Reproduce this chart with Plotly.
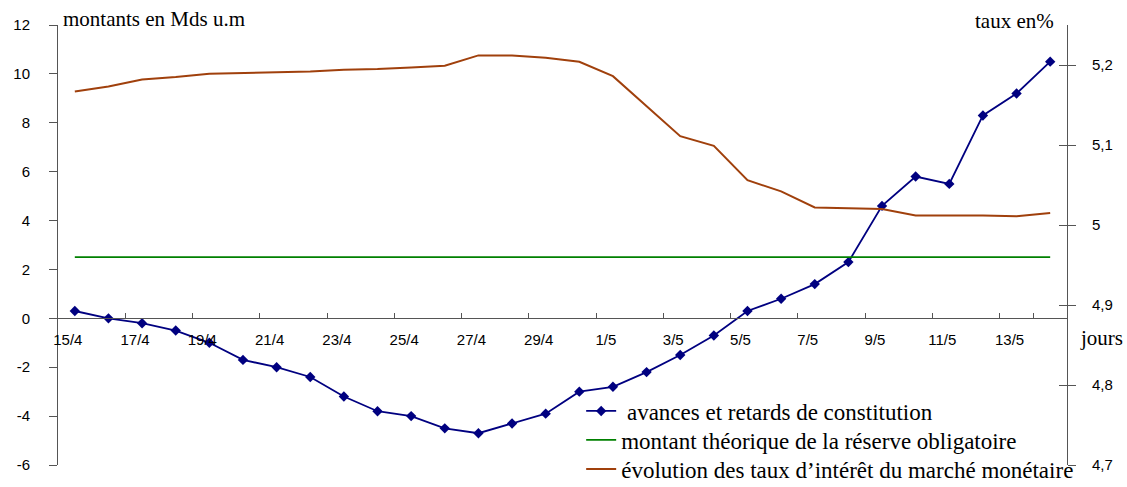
import plotly.graph_objects as go

dates = ["15/4", "16/4", "17/4", "18/4", "19/4", "20/4", "21/4", "22/4", "23/4", "24/4",
         "25/4", "26/4", "27/4", "28/4", "29/4", "30/4", "1/5", "2/5", "3/5", "4/5",
         "5/5", "6/5", "7/5", "8/5", "9/5", "10/5", "11/5", "12/5", "13/5", "14/5"]

avances = [0.3, 0.0, -0.2, -0.5, -1.0, -1.7, -2.0, -2.4, -3.2, -3.8,
           -4.0, -4.5, -4.7, -4.3, -3.9, -3.0, -2.8, -2.2, -1.5, -0.7,
           0.3, 0.8, 1.4, 2.3, 4.6, 5.8, 5.5, 8.3, 9.2, 10.5]

reserve = [2.5] * 30

taux = [5.167, 5.173, 5.182, 5.185, 5.189, 5.190, 5.191, 5.192, 5.194, 5.195,
        5.197, 5.199, 5.212, 5.212, 5.209, 5.204, 5.186, 5.149, 5.111, 5.099,
        5.056, 5.042, 5.022, 5.021, 5.020, 5.012, 5.012, 5.012, 5.011, 5.015]

left_ticks = [-6, -4, -2, 0, 2, 4, 6, 8, 10, 12]
left_text = ["-6", "-4", "-2", "0", "2", "4", "6", "8", "10", "12"]
right_ticks = [4.7, 4.8, 4.9, 5.0, 5.1, 5.2]
right_text = ["4,7", "4,8", "4,9", "5", "5,1", "5,2"]
x_labels = dates[::2]

names = [" avances et retards de constitution",
         "montant théorique de la réserve obligatoire",
         "évolution des taux d\u2019intérêt du marché monétaire"]

BLUE = "#000080"
GREEN = "#008000"
BROWN = "#A0400C"
AXIS = "#555555"
SERIF = "Liberation Serif, Times New Roman, serif"
SANS = "Liberation Sans, Arial, sans-serif"

fig = go.Figure()
fig.add_trace(go.Scatter(x=dates, y=avances, mode="lines+markers", name=names[0],
                         line=dict(color=BLUE, width=1.8),
                         marker=dict(symbol="diamond", size=8, color=BLUE),
                         legend="legend"))
fig.add_trace(go.Scatter(x=dates, y=reserve, mode="lines", name=names[1],
                         line=dict(color=GREEN, width=1.8), legend="legend2"))
fig.add_trace(go.Scatter(x=dates, y=taux, mode="lines", name=names[2], yaxis="y2",
                         line=dict(color=BROWN, width=2), legend="legend3"))
# invisible trace so the cross-tick companion axis is drawn
fig.add_trace(go.Scatter(x=dates, y=taux, mode="lines", yaxis="y3", showlegend=False,
                         line=dict(color="rgba(0,0,0,0)", width=0), hoverinfo="skip"))

axis_common = dict(automargin=False, showgrid=False, zeroline=False)
legend_common = dict(x=0.5185, xanchor="left", yanchor="top",
                     font=dict(family=SERIF, size=23, color="black"),
                     bgcolor="rgba(0,0,0,0)")

fig.update_layout(
    width=1127, height=487,
    margin=dict(l=58, r=60, t=25, b=22, autoexpand=False),
    paper_bgcolor="white", plot_bgcolor="white",
    showlegend=True,
    legend=dict(y=0.1716, **legend_common),
    legend2=dict(y=0.1057, **legend_common),
    legend3=dict(y=0.0398, **legend_common),
    xaxis=dict(type="category", range=[-0.5, 29.5], anchor="free", position=1/3,
               tickmode="array", tickvals=x_labels, ticktext=x_labels, tickangle=0,
               tickson="boundaries", ticks="inside", ticklen=5, tickcolor=AXIS,
               showline=True, linecolor=AXIS, linewidth=1,
               ticklabelshift=-7, ticklabelstandoff=8,
               tickfont=dict(family=SANS, size=15, color="black"), **axis_common),
    yaxis=dict(range=[-6, 12], tickmode="array", tickvals=left_ticks, ticktext=left_text,
               ticks="outside", ticklen=8, tickcolor=AXIS,
               showline=True, linecolor=AXIS, linewidth=1,
               ticklabelstandoff=16,
               tickfont=dict(family=SANS, size=15, color="black"), **axis_common),
    yaxis2=dict(range=[4.7, 5.25], overlaying="y", side="right", anchor="x",
                tickmode="array", tickvals=right_ticks, ticktext=right_text,
                ticks="outside", ticklen=8, tickcolor=AXIS,
                showline=True, linecolor=AXIS, linewidth=1,
                ticklabelstandoff=13,
                tickfont=dict(family=SANS, size=15, color="black"), **axis_common),
    yaxis3=dict(range=[4.7, 5.25], overlaying="y", side="right", anchor="x",
                tickmode="array", tickvals=right_ticks, showticklabels=False,
                ticks="inside", ticklen=8, tickcolor=AXIS,
                showline=False, **axis_common),
    annotations=[
        dict(text="montants en Mds u.m", xref="paper", yref="paper", x=0.003, y=1.0136,
             xanchor="left", yanchor="middle", showarrow=False,
             font=dict(family=SERIF, size=21, color="black")),
        dict(text="taux en%", xref="paper", yref="paper", x=0.989, y=1.009,
             xanchor="right", yanchor="middle", showarrow=False,
             font=dict(family=SERIF, size=21, color="black")),
        dict(text="jours", xref="paper", yref="paper", x=1.0105, y=0.2886,
             xanchor="left", yanchor="middle", showarrow=False,
             font=dict(family=SERIF, size=21, color="black")),
    ],
)

fig.write_html("out.html", config={"displayModeBar": False},
               post_script="document.body.style.margin='0';document.body.style.overflow='hidden';")
